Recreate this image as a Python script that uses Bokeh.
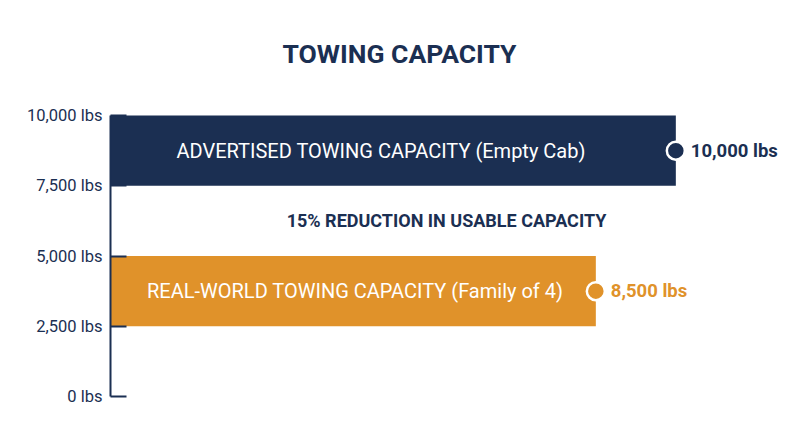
from bokeh.plotting import figure
from bokeh.models import Range1d, FixedTicker, ColumnDataSource, Label
from bokeh.core.properties import value
from bokeh.embed import file_html
from bokeh.resources import INLINE

# ---- data ----
bar_labels = ["ADVERTISED TOWING CAPACITY (Empty Cab)", "REAL-WORLD TOWING CAPACITY (Family of 4)"]
bar_values = [10000, 8500]
value_labels = ["10,000 lbs", "8,500 lbs"]
bar_bottoms = [7500, 2500]
bar_tops = [10000, 5000]
y_ticks = [0, 2500, 5000, 7500, 10000]
y_tick_labels = ["0 lbs", "2,500 lbs", "5,000 lbs", "7,500 lbs", "10,000 lbs"]
title_text = "TOWING CAPACITY"
note_text = "15% REDUCTION IN USABLE CAPACITY"

NAVY = "#1b2f52"
ORANGE = "#e0922a"
FONT = "Roboto"

x_start, x_end = -600, 12000
y_start, y_end = 0, 14093   # extra room above the bars holds the title inside the frame

p = figure(width=800, height=447, output_backend="svg", toolbar_location=None,
           x_range=Range1d(x_start, x_end), y_range=Range1d(y_start, y_end),
           min_border_left=110, min_border_right=18, min_border_top=0, min_border_bottom=51)
p.outline_line_color = None
p.grid.visible = False
p.xaxis.visible = False
p.background_fill_color = "white"
p.border_fill_color = "white"

ya = p.yaxis[0]
ya.bounds = (y_ticks[0], y_ticks[-1])
ya.ticker = FixedTicker(ticks=y_ticks)
ya.major_label_overrides = {t: l for t, l in zip(y_ticks, y_tick_labels)}
ya.major_tick_in = 16
ya.major_tick_out = 0
ya.minor_tick_in = 0
ya.minor_tick_out = 0
ya.axis_line_color = NAVY
ya.axis_line_width = 2
ya.major_tick_line_color = NAVY
ya.major_tick_line_width = 2
ya.major_label_text_font = FONT
ya.major_label_text_font_size = "16.5px"
ya.major_label_text_color = NAVY
ya.major_label_standoff = 8

colors = [NAVY, ORANGE]
src = ColumnDataSource(dict(
    left=[x_start] * 2, right=bar_values, bottom=bar_bottoms, top=bar_tops,
    color=colors, label=bar_labels, vlabel=value_labels,
    mid=[(x_start + v) / 2 for v in bar_values],
    yc=[(b + t) / 2 for b, t in zip(bar_bottoms, bar_tops)],
    dx=[-12, 2],
))

p.quad(left="left", right="right", bottom="bottom", top="top", source=src,
       fill_color="color", line_color=None)

p.text(x="mid", y="yc", text="label", source=src, text_color="white",
       text_font=value(FONT), text_font_size="20px", x_offset="dx",
       text_align="center", text_baseline="middle")

p.scatter(x="right", y="yc", source=src, size=18, fill_color="color",
          line_color="white", line_width=2.5)

p.text(x="right", y="yc", text="vlabel", source=src, text_color="color",
       text_font=value(FONT), text_font_size="18.5px", text_font_style="bold",
       text_align="left", text_baseline="middle", x_offset=15)

p.text(x=[(x_start + x_end) / 2], y=[(bar_bottoms[0] + bar_tops[1]) / 2], text=[note_text],
       text_color=NAVY, text_font=value(FONT), text_font_size="18px",
       text_font_style="bold", text_align="center", text_baseline="middle")

# title: screen units are measured from the frame's bottom-left corner
title = Label(x=289, y=343, x_units="screen", y_units="screen", text=title_text,
              text_font=FONT, text_font_size="26.5px", text_font_style="bold",
              text_color=NAVY, text_align="center", text_baseline="middle")
p.add_layout(title)

open("out.html", "w").write(file_html(p, INLINE))
